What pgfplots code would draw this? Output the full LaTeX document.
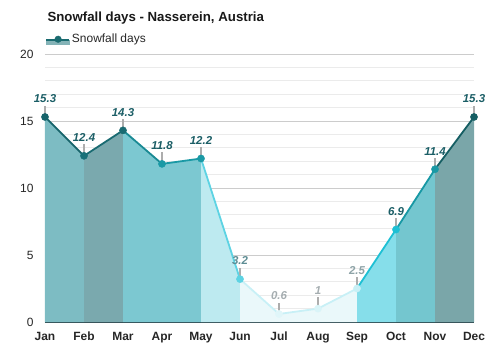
\documentclass[border=0pt]{standalone}
\usepackage{pgfplots}
\pgfplotsset{compat=1.18}
\usepackage{fontspec}
\setmainfont{Liberation Sans}
\definecolor{f1}{HTML}{7DBCC3}
\definecolor{f2}{HTML}{7AA9AE}
\definecolor{f3}{HTML}{7CC8D1}
\definecolor{f4}{HTML}{7CC8D1}
\definecolor{f5}{HTML}{BDEAF0}
\definecolor{f6}{HTML}{EAF8FA}
\definecolor{f9}{HTML}{86DEEA}
\definecolor{f10}{HTML}{74C6CF}
\definecolor{f11}{HTML}{7AA6A9}
\definecolor{l1}{HTML}{17646B}
\definecolor{l2}{HTML}{1A6B72}
\definecolor{l3}{HTML}{1A8A94}
\definecolor{l4}{HTML}{1A99A5}
\definecolor{l5}{HTML}{5DD3E3}
\definecolor{l6}{HTML}{C8F0F6}
\definecolor{l9}{HTML}{1EC0D4}
\definecolor{l10}{HTML}{1798A4}
\definecolor{l11}{HTML}{155E63}
\definecolor{labdark}{HTML}{1B5E66}
\definecolor{labjun}{HTML}{5E8D94}
\definecolor{labgrey}{HTML}{A5ADB0}
\definecolor{labsep}{HTML}{8EA3A7}
\definecolor{legfill}{HTML}{84B3B7}
\definecolor{legline}{HTML}{1A6B70}
\definecolor{axisline}{HTML}{2E4A50}
\begin{document}
\begin{tikzpicture}
\useasboundingbox (0,0) rectangle (500bp,350bp);
\node[anchor=base west, font=\fontsize{13.3}{16}\selectfont\bfseries, text=black!90] at (44bp,328.5bp) {Snowfall days - Nasserein, Austria};
\begin{axis}[
  at={(45bp,28bp)}, anchor=south west,
  scale only axis, width=429bp, height=268bp,
  xmin=0, xmax=11, ymin=0, ymax=20,
  axis x line*=bottom, axis y line*=left,
  x axis line style={axisline, line width=0.9bp, -},
  y axis line style={draw=none},
  xtick={0,...,11},
  xticklabels={Jan,Feb,Mar,Apr,May,Jun,Jul,Aug,Sep,Oct,Nov,Dec},
  ytick={0,5,10,15,20},
  minor y tick num=4,
  major tick length=0pt, minor tick length=0pt,
  ymajorgrids, yminorgrids,
  major grid style={draw=black!20, line width=0.8bp},
  minor grid style={draw=black!8, line width=0.6bp},
  x tick label style={font=\fontsize{12}{14}\selectfont\bfseries, text=black!85, yshift=-6.5bp},
  y tick label style={font=\fontsize{12}{14}\selectfont, text=black!85, xshift=-8bp},
  /pgf/number format/assume math mode=true,
  clip=false,
  legend style={at={(0,1)}, anchor=south west, yshift=8bp, draw=none, fill=none, inner sep=0pt,
    font=\fontsize{12}{14}\selectfont, text=black!85},
  legend cell align=left,
]
\addlegendimage{legend image code/.code={
  \fill[legfill] (0bp,-5.5bp) rectangle (23bp,-1bp);
  \draw[legline, line width=1.8bp] (0bp,-1.5bp) -- (23bp,-1.5bp);
  \fill[legline] (12bp,-0.5bp) circle (3.3bp);
}}
\addlegendentry{Snowfall days}
% area segments
\addplot[fill=f1, draw=none, forget plot] coordinates {(0,15.3) (1,12.4)} \closedcycle;
\addplot[fill=f2, draw=none, forget plot] coordinates {(1,12.4) (2,14.3)} \closedcycle;
\addplot[fill=f3, draw=none, forget plot] coordinates {(2,14.3) (3,11.8)} \closedcycle;
\addplot[fill=f4, draw=none, forget plot] coordinates {(3,11.8) (4,12.2)} \closedcycle;
\addplot[fill=f5, draw=none, forget plot] coordinates {(4,12.2) (5,3.2)} \closedcycle;
\addplot[fill=f6, draw=none, forget plot] coordinates {(5,3.2) (6,0.6)} \closedcycle;
\addplot[fill=f6, draw=none, forget plot] coordinates {(6,0.6) (7,1)} \closedcycle;
\addplot[fill=f6, draw=none, forget plot] coordinates {(7,1) (8,2.5)} \closedcycle;
\addplot[fill=f9, draw=none, forget plot] coordinates {(8,2.5) (9,6.9)} \closedcycle;
\addplot[fill=f10, draw=none, forget plot] coordinates {(9,6.9) (10,11.4)} \closedcycle;
\addplot[fill=f11, draw=none, forget plot] coordinates {(10,11.4) (11,15.3)} \closedcycle;
% line segments
\addplot[l1, line width=1.8bp, forget plot] coordinates {(0,15.3) (1,12.4)};
\addplot[l2, line width=1.8bp, forget plot] coordinates {(1,12.4) (2,14.3)};
\addplot[l3, line width=1.8bp, forget plot] coordinates {(2,14.3) (3,11.8)};
\addplot[l4, line width=1.8bp, forget plot] coordinates {(3,11.8) (4,12.2)};
\addplot[l5, line width=1.8bp, forget plot] coordinates {(4,12.2) (5,3.2)};
\addplot[l6, line width=1.8bp, forget plot] coordinates {(5,3.2) (6,0.6) (7,1) (8,2.5)};
\addplot[l9, line width=1.8bp, forget plot] coordinates {(8,2.5) (9,6.9)};
\addplot[l10, line width=1.8bp, forget plot] coordinates {(9,6.9) (10,11.4)};
\addplot[l11, line width=1.8bp, forget plot] coordinates {(10,11.4) (11,15.3)};
% label ticks and labels
\pgfplotsset{
  lab/.style={only marks, mark=none, forget plot,
    error bars/y dir=plus, error bars/y fixed=0.85, error bars/error mark=none,
    error bars/error bar style={draw=black!32, line width=1.6bp},
    nodes near coords,
    every node near coord/.append style={anchor=south, inner sep=0pt, yshift=14bp,
      font=\fontsize{11.5}{13}\selectfont\bfseries\itshape, text=#1}},
}
\addplot[lab=labdark] coordinates {(0,15.3) (1,12.4) (2,14.3) (3,11.8) (4,12.2) (9,6.9) (10,11.4) (11,15.3)};
\addplot[lab=labjun] coordinates {(5,3.2)};
\addplot[lab=labgrey] coordinates {(6,0.6) (7,1)};
\addplot[lab=labsep] coordinates {(8,2.5)};
% markers
\pgfplotsset{mk/.style={only marks, mark=*, mark size=3.6bp, forget plot, mark options={draw=#1, fill=#1}}}
\addplot[mk=l1] coordinates {(0,15.3)};
\addplot[mk=l2!80!l3] coordinates {(1,12.4)};
\addplot[mk=l2] coordinates {(2,14.3)};
\addplot[mk=l4] coordinates {(3,11.8)};
\addplot[mk=l4] coordinates {(4,12.2)};
\addplot[mk=l5] coordinates {(5,3.2)};
\addplot[mk=f6!70!l6] coordinates {(6,0.6)};
\addplot[mk=f6!50!l6] coordinates {(7,1)};
\addplot[mk=l6] coordinates {(8,2.5)};
\addplot[mk=l9] coordinates {(9,6.9)};
\addplot[mk=l4] coordinates {(10,11.4)};
\addplot[mk=l11] coordinates {(11,15.3)};
\end{axis}
\end{tikzpicture}
\end{document}
